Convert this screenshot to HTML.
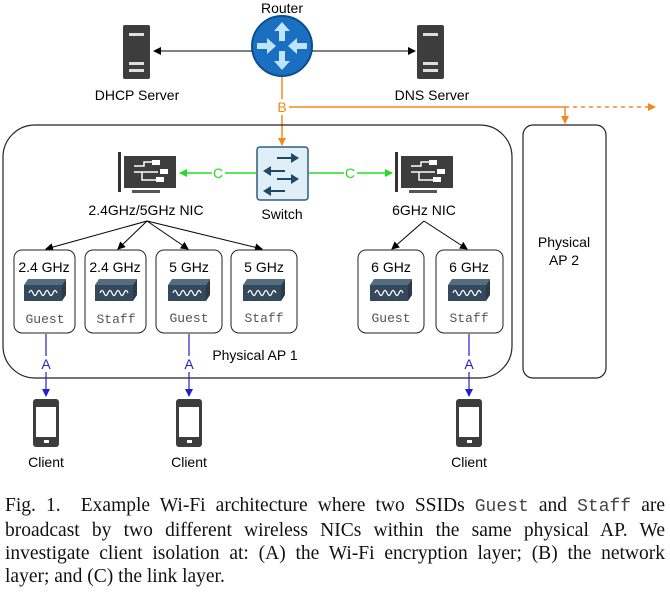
<!DOCTYPE html>
<html><head><meta charset="utf-8"><style>
body{margin:0;background:#fff;width:670px;height:597px;overflow:hidden}
.cap{position:absolute;left:5px;top:494px;width:660px;font-family:"Liberation Serif",serif;font-size:19.5px;line-height:23px;color:#111}
.cap div{text-align:justify;text-align-last:justify;white-space:nowrap}
.cap div.l{text-align-last:left}
.cap tt{font-family:"Liberation Mono",monospace;font-size:18px;color:#444}
</style></head><body>
<svg width="670" height="490" style="position:absolute;left:0;top:0" font-family="Liberation Sans, sans-serif">
<defs>
<marker id="ak" markerWidth="8" markerHeight="8" refX="7" refY="4" orient="auto" markerUnits="userSpaceOnUse"><path d="M0,0 L8,4 L0,8 z" fill="#000"/></marker>
<marker id="ao" markerWidth="8" markerHeight="8" refX="7" refY="4" orient="auto" markerUnits="userSpaceOnUse"><path d="M0,0 L8,4 L0,8 z" fill="#f08a1c"/></marker>
<marker id="ag" markerWidth="8" markerHeight="8" refX="7" refY="4" orient="auto" markerUnits="userSpaceOnUse"><path d="M0,0 L8,4 L0,8 z" fill="#22dd22"/></marker>
<marker id="ab" markerWidth="8" markerHeight="8" refX="7" refY="4" orient="auto" markerUnits="userSpaceOnUse"><path d="M0,0 L8,4 L0,8 z" fill="#2222cc"/></marker>
<g id="srv"><rect x="0" y="0" width="27" height="54" rx="2" fill="#3d3d3d"/><rect x="6" y="8" width="15" height="3" fill="#ddd"/><rect x="6" y="37" width="15" height="3" fill="#ddd"/><rect x="6" y="44" width="15" height="3" fill="#ddd"/></g>
<g id="ap"><path d="M4,0 L42,0 L38,6 L0,6 z" fill="#556d80"/><rect x="0" y="6" width="38" height="16" fill="#344a5c"/><path d="M38,6 L42,0 L42,16 L38,22z" fill="#2a3a48"/><path d="M5,14 q2,-5 4,0 q2,5 4,0 q2,-5 4,0 q2,5 4,0 q2,-5 4,0 q2,5 4,0 q2,-5 4,0" stroke="#fff" stroke-width="1.2" fill="none"/></g>
<g id="nic"><rect x="0" y="0" width="3" height="40" fill="#333"/><rect x="6" y="4" width="52" height="32" fill="#3d3d3d"/><rect x="14" y="38" width="28" height="3" fill="#555"/><path d="M16,14 h10 v-4 h10 M16,20 h24 M24,20 v8 h14" stroke="#fff" stroke-width="1.5" fill="none"/><rect x="34" y="8" width="8" height="5" fill="#fff"/><rect x="42" y="17" width="8" height="5" fill="#fff"/><rect x="38" y="25" width="8" height="5" fill="#fff"/></g>
<g id="ph"><rect x="0" y="0" width="26" height="48" rx="3" fill="#3d3d3d"/><rect x="3" y="8" width="20" height="30" fill="#fff"/><rect x="11" y="41" width="5" height="3" fill="#fff"/></g>
</defs>
<text x="282" y="13" font-size="14" text-anchor="middle">Router</text>
<circle cx="282" cy="46" r="30" fill="#1a6fc0"/><circle cx="282" cy="46" r="30" fill="none" stroke="#0b4f90" stroke-width="2"/>
<g fill="#bfe4ff"><path d="M282,22 l-8,9 h5 v10 h6 v-10 h5z"/><path d="M282,70 l-8,-9 h5 v-10 h6 v10 h5z"/><path d="M276,46 l-9,-8 v5 h-10 v6 h10 v5z"/><path d="M288,46 l9,-8 v5 h10 v6 h-10 v5z"/></g>
<use href="#srv" x="123" y="25"/><use href="#srv" x="417" y="25"/>
<line x1="252" y1="51" x2="154" y2="51" stroke="#000" marker-end="url(#ak)"/>
<line x1="312" y1="51" x2="415" y2="51" stroke="#000" marker-end="url(#ak)"/>
<text x="137" y="100" font-size="14" text-anchor="middle">DHCP Server</text>
<text x="432" y="100" font-size="14" text-anchor="middle">DNS Server</text>
<line x1="282" y1="77" x2="282" y2="145" stroke="#f08a1c" stroke-width="1.5" marker-end="url(#ao)"/>
<rect x="276" y="99" width="12" height="16" fill="#fff"/>
<text x="282" y="112" font-size="14" fill="#f08a1c" text-anchor="middle">B</text>
<path d="M289,107 H565 V123" stroke="#f08a1c" stroke-width="1.5" fill="none" marker-end="url(#ao)"/>
<line x1="565" y1="107" x2="655" y2="107" stroke="#f08a1c" stroke-width="1.5" stroke-dasharray="4,4" marker-end="url(#ao)"/>
<rect x="3" y="125" width="509" height="253" rx="32" fill="none" stroke="#222" stroke-width="1.2"/>
<rect x="523" y="125" width="83" height="253" rx="10" fill="none" stroke="#222" stroke-width="1.2"/>
<text x="564" y="247" font-size="14" text-anchor="middle">Physical</text>
<text x="564" y="265" font-size="14" text-anchor="middle">AP 2</text>
<rect x="257" y="147" width="51" height="53" rx="3" fill="#dfeef7" stroke="#2a5e7a" stroke-width="1.5"/>
<g fill="#1d4a66"><path d="M277,157 h14 v-4 l8,5 l-8,5 v-4 h-14z"/><path d="M285,170 h-14 v-4 l-8,5 l8,5 v-4 h14z"/><path d="M277,178 h14 v-4 l8,5 l-8,5 v-4 h-14z"/><path d="M285,190 h-14 v-4 l-8,5 l8,5 v-4 h14z"/></g>
<text x="282" y="219" font-size="14" text-anchor="middle">Switch</text>
<use href="#nic" x="118" y="152"/><use href="#nic" x="395" y="152"/>
<text x="146" y="215" font-size="14" text-anchor="middle">2.4GHz/5GHz NIC</text>
<text x="424" y="215" font-size="14" text-anchor="middle">6GHz NIC</text>
<line x1="256" y1="173" x2="180" y2="173" stroke="#22dd22" stroke-width="1.5" marker-end="url(#ag)"/>
<line x1="309" y1="173" x2="392" y2="173" stroke="#22dd22" stroke-width="1.5" marker-end="url(#ag)"/>
<rect x="212" y="165" width="13" height="16" fill="#fff"/><rect x="344" y="165" width="13" height="16" fill="#fff"/>
<text x="218" y="178" font-size="14" fill="#22dd22" text-anchor="middle">C</text>
<text x="350" y="178" font-size="14" fill="#22dd22" text-anchor="middle">C</text>
<g stroke="#000" marker-end="url(#ak)">
<line x1="147" y1="221" x2="46" y2="249"/><line x1="147" y1="221" x2="118" y2="249"/><line x1="147" y1="221" x2="188" y2="249"/><line x1="147" y1="221" x2="262" y2="249"/>
<line x1="424" y1="221" x2="392" y2="249"/><line x1="424" y1="221" x2="467" y2="249"/>
</g>
<g font-size="14" text-anchor="middle">
<rect x="14" y="250" width="61" height="83" rx="8" fill="#fff" stroke="#222"/><text x="44" y="272">2.4 GHz</text><use href="#ap" x="24" y="279"/>
<rect x="85" y="250" width="61" height="83" rx="8" fill="#fff" stroke="#222"/><text x="115" y="272">2.4 GHz</text><use href="#ap" x="95" y="279"/>
<rect x="156" y="250" width="66" height="83" rx="8" fill="#fff" stroke="#222"/><text x="189" y="272">5 GHz</text><use href="#ap" x="168" y="279"/>
<rect x="231" y="250" width="66" height="83" rx="8" fill="#fff" stroke="#222"/><text x="264" y="272">5 GHz</text><use href="#ap" x="243" y="279"/>
<rect x="358" y="250" width="66" height="83" rx="8" fill="#fff" stroke="#222"/><text x="391" y="272">6 GHz</text><use href="#ap" x="370" y="279"/>
<rect x="436" y="250" width="67" height="83" rx="8" fill="#fff" stroke="#222"/><text x="469" y="272">6 GHz</text><use href="#ap" x="448" y="279"/>
</g>
<g font-family="Liberation Mono, monospace" font-size="13" fill="#555" text-anchor="middle">
<text x="45" y="323">Guest</text><text x="116" y="323">Staff</text><text x="189" y="322">Guest</text><text x="264" y="322">Staff</text><text x="391" y="322">Guest</text><text x="469" y="322">Staff</text>
</g>
<text x="255" y="360" font-size="14" text-anchor="middle">Physical AP 1</text>
<g stroke="#2222cc" stroke-width="1.2" marker-end="url(#ab)">
<line x1="46" y1="334" x2="46" y2="396"/><line x1="189" y1="334" x2="189" y2="396"/><line x1="469" y1="334" x2="469" y2="396"/>
</g>
<g fill="#fff"><rect x="40" y="356" width="12" height="16"/><rect x="183" y="356" width="12" height="16"/><rect x="463" y="356" width="12" height="16"/></g>
<g font-size="14" fill="#2222cc" text-anchor="middle"><text x="46" y="369">A</text><text x="189" y="369">A</text><text x="469" y="369">A</text></g>
<use href="#ph" x="33" y="399"/><use href="#ph" x="176" y="399"/><use href="#ph" x="456" y="399"/>
<g font-size="14" text-anchor="middle"><text x="46" y="467">Client</text><text x="189" y="467">Client</text><text x="469" y="467">Client</text></g>
</svg>
<div class="cap">
<div>Fig. 1.&nbsp; Example Wi-Fi architecture where two SSIDs <tt>Guest</tt> and <tt>Staff</tt> are</div>
<div>broadcast by two different wireless NICs within the same physical AP. We</div>
<div>investigate client isolation at: (A) the Wi-Fi encryption layer; (B) the network</div>
<div class="l">layer; and (C) the link layer.</div>
</div>
</body></html>
